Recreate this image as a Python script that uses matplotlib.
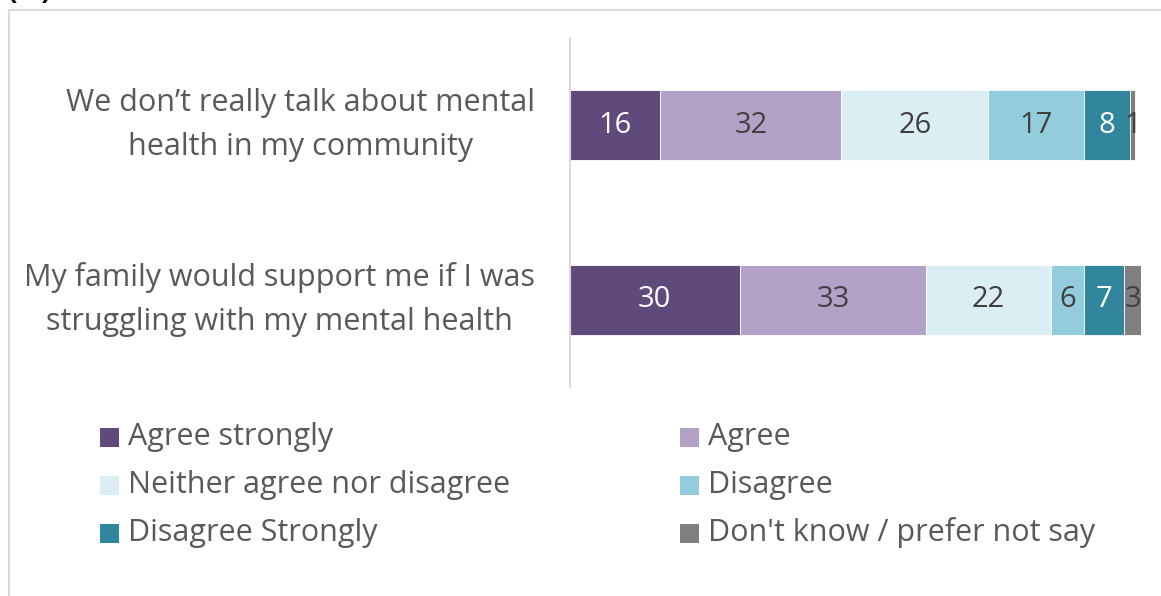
import matplotlib
matplotlib.use("Agg")
import matplotlib.pyplot as plt
from matplotlib.patches import Rectangle
from matplotlib.lines import Line2D

plt.rcParams["font.family"] = ["Open Sans", "DejaVu Sans"]

statements = [
    "We don\u2019t really talk about mental\nhealth in my community",
    "My family would support me if I was\nstruggling with my mental health",
]
responses = [
    "Agree strongly", "Agree", "Neither agree nor disagree",
    "Disagree", "Disagree Strongly", "Don't know / prefer not say",
]
agree_strongly = [16, 30]
agree = [32, 33]
neither = [26, 22]
disagree = [17, 6]
disagree_strongly = [8, 7]
dont_know = [1, 3]

series = [agree_strongly, agree, neither, disagree, disagree_strongly, dont_know]
colors = ["#604A7B", "#B3A2C7", "#DAEEF3", "#93CDDD", "#31859C", "#7F7F7F"]
label_colors = ["white", "#404040", "#404040", "#404040", "white", "#404040"]

W, H = 1161, 596
fig = plt.figure(figsize=(W / 100, H / 100), dpi=100)
ax = fig.add_axes([570 / W, 1 - 387 / H, 571 / W, 349 / H])

ypos = list(range(len(statements)))
left = [0] * len(statements)
for vals, col, tcol in zip(series, colors, label_colors):
    bars = ax.barh(ypos, vals, left=left, height=0.4, color=col,
                   edgecolor="white", linewidth=0.6)
    for b, v in zip(bars, vals):
        ax.text(b.get_x() + b.get_width() / 2, b.get_y() + b.get_height() / 2,
                str(v), ha="center", va="center", fontsize=21, color=tcol)
    left = [l + v for l, v in zip(left, vals)]

ax.set_xlim(0, max(left))
ax.set_ylim(len(statements) - 0.5, -0.5)
ax.set_xticks([])
ax.set_yticks(ypos)
ax.set_yticklabels(statements, fontsize=22, color="#595959", linespacing=1.62)
for lbl in ax.get_yticklabels():
    lbl.set_multialignment("center")
    lbl.set_verticalalignment("center")
ax.tick_params(axis="y", length=0, pad=25)
for side in ["top", "right", "bottom"]:
    ax.spines[side].set_visible(False)
ax.spines["left"].set_color("#D9D9D9")
ax.spines["left"].set_linewidth(1.5)

# legend in two columns, filled row by row
col_x = [100, 680]
row_y = [437, 485, 533]
for i, (name, col) in enumerate(zip(responses, colors)):
    x = col_x[i % 2]
    y = row_y[i // 2]
    fig.patches.append(Rectangle((x / W, 1 - (y + 9.5) / H), 19 / W, 19 / H,
                                 facecolor=col, transform=fig.transFigure))
    fig.text((x + 28) / W, 1 - y / H, name, ha="left", va="center",
             fontsize=22, color="#595959")

# outer frame and clipped unit note
fig.add_artist(Line2D([8.5 / W, 8.5 / W], [0, 1 - 10 / H], color="#D9D9D9",
                      linewidth=1.5, transform=fig.transFigure))
fig.add_artist(Line2D([8.5 / W, 1], [1 - 10 / H, 1 - 10 / H], color="#D9D9D9",
                      linewidth=1.5, transform=fig.transFigure))
fig.text(8 / W, 1 - 6 / H, "(%)", ha="left", va="bottom", fontsize=20,
         fontweight="bold", color="black")

fig.savefig("out.png", dpi=100, facecolor="white")
